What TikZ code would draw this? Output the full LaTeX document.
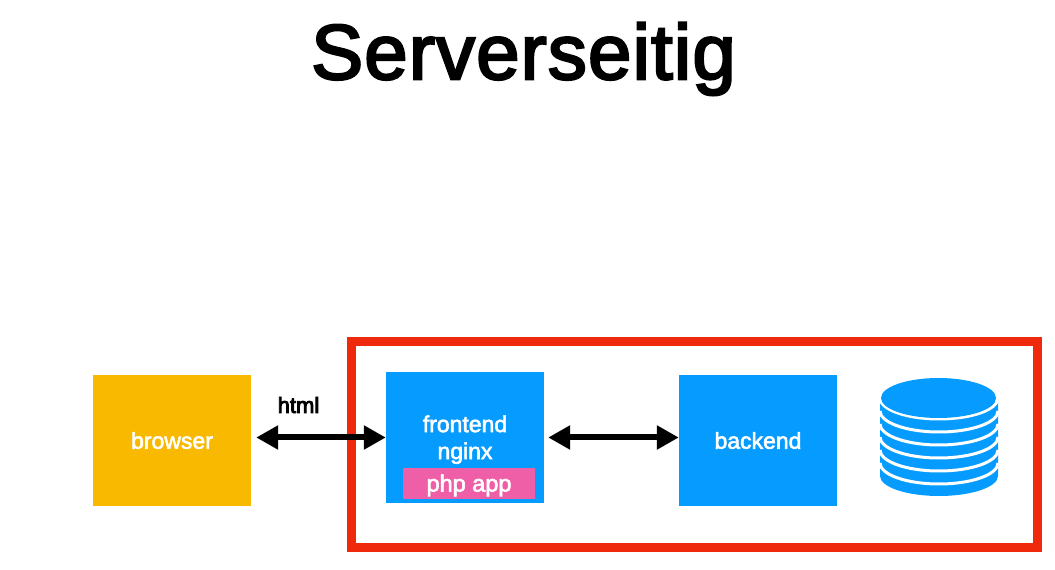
\documentclass[tikz,border=0pt]{standalone}
\usepackage{fontspec}
\setmainfont{Liberation Sans}
\newfontfamily\mediumfont[FakeBold=2.5]{Liberation Sans}
\newfontfamily\heavyfont[FakeBold=4]{Liberation Sans}
\newfontfamily\titlefont[FakeBold=3,LetterSpace=1.5]{Liberation Sans}
\usetikzlibrary{arrows.meta}
\definecolor{boxblue}{HTML}{069CFF}
\definecolor{boxorange}{HTML}{F9B900}
\definecolor{boxpink}{HTML}{EF5FA7}
\definecolor{framered}{HTML}{EF2A0C}
\tikzset{
	box/.style={fill=#1, text=white, minimum width=158pt, minimum height=131pt, inner sep=0pt, align=center,
		font=\mediumfont\fontsize{23}{27}\selectfont},
	biarrow/.style={line width=6pt, {Triangle[length=22pt,width=23pt]}-{Triangle[length=22pt,width=23pt]}},
}
\begin{document}
\begin{tikzpicture}[x=1pt,y=1pt]
	\useasboundingbox (0,0) rectangle (1055,570);
	% title
	\node (title) at (523.5,511) {\titlefont\fontsize{78}{80}\selectfont Serverseitig};
	% red frame
	\node[draw=framered, line width=9pt, minimum width=686pt, minimum height=206pt, inner sep=0pt] (frame) at (694.5,125.5) {};
	% boxes
	\node[box=boxorange] (browser) at (172,129.5) {browser};
	\node[box=boxblue] (frontend) at (465,132.5) {\rule{0pt}{21pt}frontend\\nginx};
	\node[box=boxblue] (backend) at (758,129.5) {backend};
	\node[fill=boxpink, text=white, minimum width=132pt, minimum height=31pt, inner sep=0pt, font=\mediumfont\fontsize{23.5}{27}\selectfont] (php) at (469,86.5) {\rule{0pt}{21pt}php app};
	% arrows
	\draw[biarrow, shorten >=5pt] (frontend.west) -- (frontend.west -| browser.east);
	\draw[biarrow, shorten <=4pt] (frontend.east) -- (frontend.east -| backend.west);
	\node[font=\heavyfont\fontsize{22}{24}\selectfont] (html) at (298.5,165) {html};
	% database
	\fill[boxblue] (880,168) -- (880,94) arc (180:360:59 and 20) -- (998,168) -- cycle;
	\foreach \k in {0,...,5}
		\draw[white, line width=3pt] (880,172-13*\k) arc (180:360:59 and 21);
	\fill[boxblue] (938.5,172) ellipse (57.5 and 20);
\end{tikzpicture}
\end{document}
